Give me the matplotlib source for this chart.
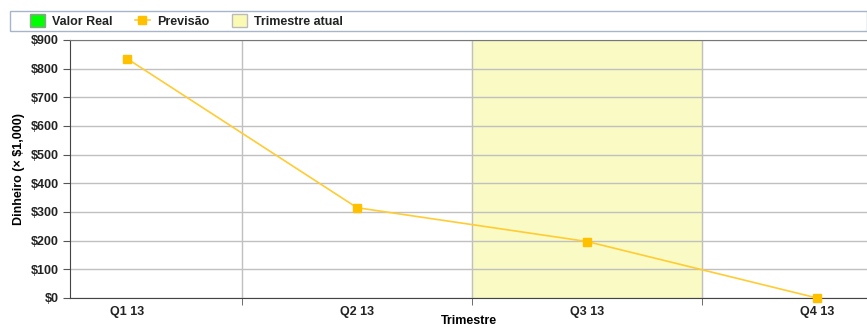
import matplotlib
matplotlib.use("Agg")
import matplotlib.pyplot as plt
from matplotlib.patches import Rectangle
from matplotlib.lines import Line2D
from matplotlib.ticker import FuncFormatter

plt.rcParams['font.family'] = ['Liberation Sans', 'DejaVu Sans']

quarters = ["Q1 13", "Q2 13", "Q3 13", "Q4 13"]
forecast = [835, 315, 197, 0]
current_quarter = "Q3 13"

W, H = 867, 330
fig = plt.figure(figsize=(W / 100, H / 100), dpi=100)
fig.patch.set_facecolor("white")

ax = fig.add_axes([70 / W, (H - 298) / H, (W - 70) / W, 258 / H])
x = list(range(len(quarters)))

# highlight current quarter
ci = quarters.index(current_quarter)
ax.axvspan(ci - 0.5, ci + 0.5, color="#FAFAC4", zorder=0)

ax.plot(x, forecast, color="#FFCC33", lw=1.2, marker="s", markersize=6,
        markerfacecolor="#FFC000", markeredgecolor="#FFC000", zorder=3, clip_on=False)

ax.set_xlim(-0.248, 3.217)
ax.set_ylim(0, 900)
ax.set_yticks(range(0, 901, 100))
ax.yaxis.set_major_formatter(FuncFormatter(lambda v, p: f"${int(v)}"))
ax.set_xticks(x)
ax.set_xticklabels(quarters)
ax.set_xticks([i + 0.5 for i in range(len(quarters) - 1)], minor=True)
ax.tick_params(axis="x", which="major", length=0, pad=6)
ax.tick_params(axis="x", which="minor", length=5, color="#555555")
ax.tick_params(axis="y", length=5, color="#555555", pad=3)
for lbl in ax.get_xticklabels() + ax.get_yticklabels():
    lbl.set_fontweight("bold")
    lbl.set_fontsize(9)
    lbl.set_color("#222222")

ax.grid(axis="y", color="#C0C0C0", lw=1, zorder=1)
ax.grid(axis="x", which="minor", color="#C0C0C0", lw=1, zorder=1)
ax.set_axisbelow(True)

ax.spines["right"].set_visible(False)
ax.spines["left"].set_color("#444444")
ax.spines["bottom"].set_color("#444444")
ax.spines["top"].set_color("#777777")

ax.set_ylabel("Dinheiro (× $1,000)", fontsize=9, fontweight="bold", labelpad=4)
ax.set_xlabel("Trimestre", fontsize=9, fontweight="bold")
ax.xaxis.set_label_coords(0.5, -29 / 258)
ax.xaxis.label.set_verticalalignment("bottom")

# legend strip
fig.patches.append(Rectangle((10 / W, (H - 31) / H), (W - 10) / W, 20 / H,
                             transform=fig.transFigure, facecolor="white",
                             edgecolor="#A8B4C8", lw=1))
handles = [
    Rectangle((0, 0), 1, 1, facecolor="#00FF00", edgecolor="#999999"),
    Line2D([0], [0], color="#FFCC33", lw=1.2, marker="s", markersize=6,
           markerfacecolor="#FFC000", markeredgecolor="#FFC000"),
    Rectangle((0, 0), 1, 1, facecolor="#FAFAB4", edgecolor="#BBBBBB"),
]
labels = ["Valor Real", "Previsão", "Trimestre atual"]
leg = fig.legend(handles, labels, loc="center left", bbox_to_anchor=(30 / W, (H - 21) / H),
                 ncol=3, frameon=False, fontsize=9, handlelength=1.2, handleheight=1.2,
                 handletextpad=0.6, columnspacing=1.75, borderpad=0, borderaxespad=0)
for t in leg.get_texts():
    t.set_fontweight("bold")
    t.set_color("#222222")

fig.savefig("out.png", dpi=100)
